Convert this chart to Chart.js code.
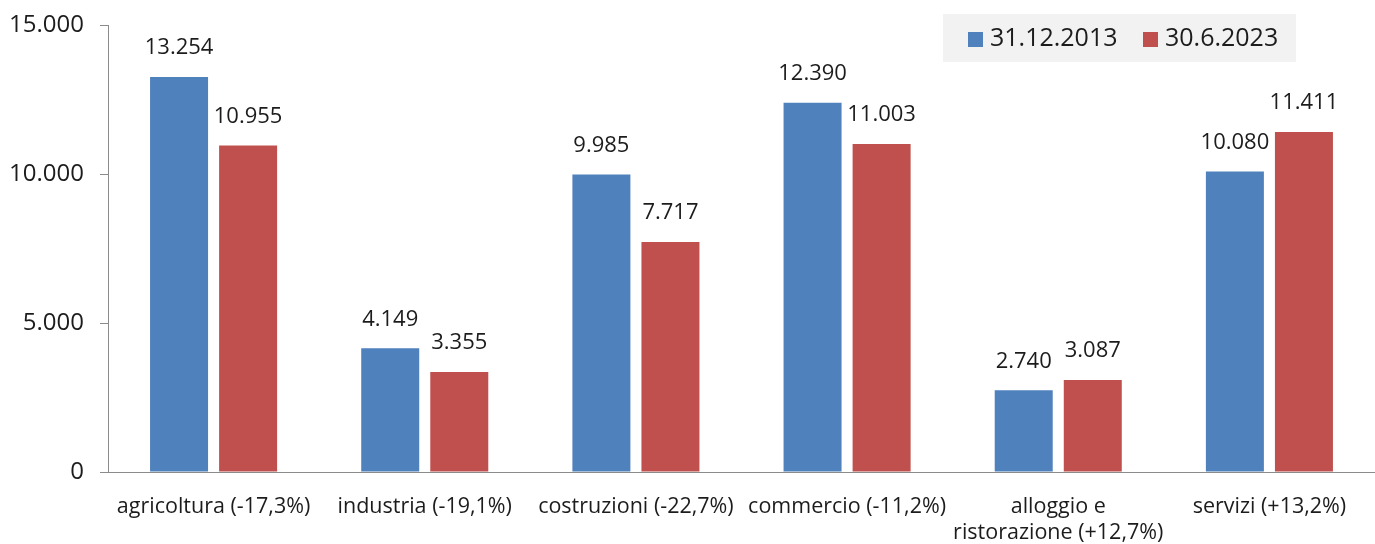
<!DOCTYPE html>
<html lang="it">
<head>
<meta charset="UTF-8">
<title>Imprese per settore</title>
<script src="https://cdn.jsdelivr.net/npm/chart.js"></script>
<style>
  html, body { margin: 0; padding: 0; background: #fff; }
  .wrap { width: 1375px; height: 544px; }
</style>
</head>
<body>
<div class="wrap"><canvas id="chart" width="1375" height="544"></canvas></div>
<script>
// data
const categories = [
  'agricoltura (-17,3%)',
  'industria (-19,1%)',
  'costruzioni (-22,7%)',
  'commercio (-11,2%)',
  ['alloggio e', 'ristorazione (+12,7%)'],
  'servizi (+13,2%)'
];
const seriesNames = ['31.12.2013', '30.6.2023'];
const values2013 = [13254, 4149, 9985, 12390, 2740, 10080];
const values2023 = [10955, 3355, 7717, 11003, 3087, 11411];
const yTicks = [0, 5000, 10000, 15000];

const BLUE = '#4f81bd';
const RED = '#c0504d';
const TEXT = '#1c1c1c';
const AXIS = '#8c8c8c';
const FONT = "'Open Sans', sans-serif";

// 13254 -> "13.254"
function fmt(v) {
  return String(v).replace(/\B(?=(\d{3})+(?!\d))/g, '.');
}

// value labels above each bar
const barLabels = {
  id: 'barLabels',
  afterDatasetsDraw(chart) {
    const ctx = chart.ctx;
    ctx.save();
    ctx.font = '22px ' + FONT;
    ctx.fillStyle = TEXT;
    ctx.textAlign = 'center';
    ctx.textBaseline = 'middle';
    chart.data.datasets.forEach((ds, i) => {
      chart.getDatasetMeta(i).data.forEach((bar, j) => {
        ctx.fillText(fmt(ds.data[j]), bar.x, bar.y - 29);
      });
    });
    ctx.restore();
  }
};

// legend drawn in the top right corner, over the plot
const boxLegend = {
  id: 'boxLegend',
  afterDraw(chart) {
    const ctx = chart.ctx;
    ctx.save();
    ctx.fillStyle = '#f2f2f2';
    ctx.fillRect(943, 14, 353, 48);
    ctx.font = '25px ' + FONT;
    ctx.textBaseline = 'middle';
    const xs = [968, 1143];
    chart.data.datasets.forEach((ds, i) => {
      ctx.fillStyle = ds.backgroundColor;
      ctx.fillRect(xs[i], 32, 15, 15);
      ctx.fillStyle = TEXT;
      ctx.fillText(ds.label, xs[i] + 22, 39);
    });
    ctx.restore();
  }
};

new Chart(document.getElementById('chart'), {
  type: 'bar',
  data: {
    labels: categories,
    datasets: [
      { label: seriesNames[0], data: values2013, backgroundColor: BLUE },
      { label: seriesNames[1], data: values2023, backgroundColor: RED }
    ]
  },
  options: {
    responsive: false,
    animation: false,
    events: [],
    categoryPercentage: 0.654,
    barPercentage: 0.84,
    layout: { padding: { left: 0, top: 25, right: 0, bottom: 0 } },
    plugins: {
      legend: { display: false },
      tooltip: { enabled: false }
    },
    scales: {
      x: {
        grid: { display: false, drawTicks: false },
        border: { display: true, color: AXIS, width: 1 },
        ticks: {
          color: TEXT,
          font: { family: FONT, size: 21.5, lineHeight: 1.21 },
          padding: 22,
          maxRotation: 0,
          autoSkip: false
        },
        afterFit(axis) {
          axis.height = 72;
          axis.paddingLeft = 0;
          axis.paddingRight = 0;
        }
      },
      y: {
        min: 0,
        max: 15000,
        afterBuildTicks(axis) {
          axis.ticks = yTicks.map(v => ({ value: v }));
        },
        afterFit(axis) {
          axis.width = 108;
          axis.paddingTop = 0;
          axis.paddingBottom = 0;
        },
        grid: {
          drawOnChartArea: false,
          drawTicks: true,
          tickLength: 8,
          color: AXIS
        },
        border: { display: true, color: AXIS, width: 1 },
        ticks: {
          color: TEXT,
          font: { family: FONT, size: 24 },
          padding: 16,
          callback: v => fmt(v)
        }
      }
    }
  },
  plugins: [barLabels, boxLegend]
});
</script>
</body>
</html>
